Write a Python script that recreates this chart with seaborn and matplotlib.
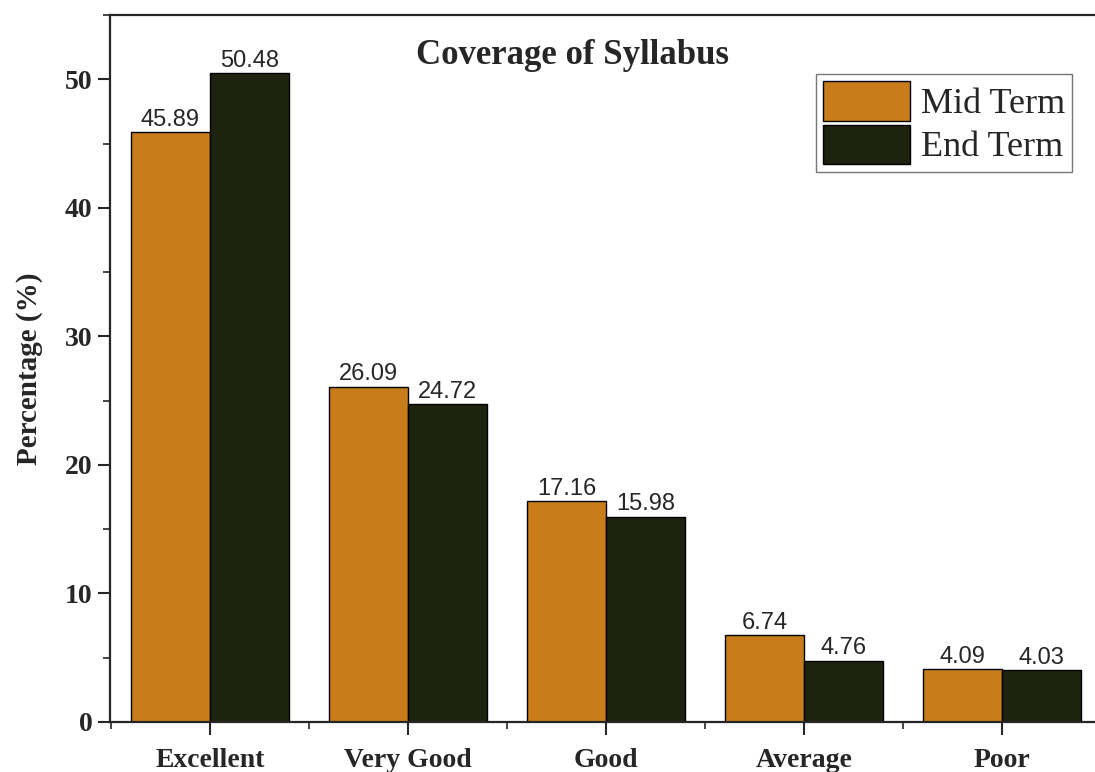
import pandas as pd
import numpy as np
import seaborn as sns
import matplotlib.pyplot as plt
from matplotlib.ticker import MultipleLocator

categorias = ['Excellent', 'Very Good', 'Good', 'Average', 'Poor']
mid_term = [45.89, 26.09, 17.16, 6.74, 4.09]
end_term = [50.48, 24.72, 15.98, 4.76, 4.03]
series = ['Mid Term', 'End Term']
colores = ['#C97C1C', '#1E2310']

df = pd.DataFrame({'Categoria': categorias * 2,
                   'Serie': [series[0]] * 5 + [series[1]] * 5,
                   'Valor': mid_term + end_term})

sns.set_style('ticks')
plt.rcParams['font.family'] = ['Liberation Serif', 'DejaVu Serif']

fig = plt.figure(figsize=(10.95, 7.72), dpi=100)
ax = fig.add_axes([0.1005, 0.0648, 0.8995, 0.9158])

sns.barplot(data=df, x='Categoria', y='Valor', hue='Serie', palette=colores,
            width=0.8, edgecolor='black', linewidth=1, saturation=1, ax=ax)

for cont in ax.containers:
    ax.bar_label(cont, fmt='%.2f', padding=1, fontsize=17, family='Liberation Sans')

ax.set_ylim(0, 55)
ax.set_xlim(-0.505, 4.47)
ax.yaxis.set_major_locator(MultipleLocator(10))
ax.yaxis.set_minor_locator(MultipleLocator(5))
ax.xaxis.set_minor_locator(MultipleLocator(0.5))
ax.tick_params(axis='both', which='major', length=9, width=1.5, labelsize=20)
ax.tick_params(axis='x', which='major', pad=10)
ax.tick_params(axis='both', which='minor', length=5, width=1.2)
for lab in ax.get_xticklabels() + ax.get_yticklabels():
    lab.set_fontweight('bold')

ax.set_xlabel('')
ax.set_ylabel('Percentage (%)', fontsize=21, fontweight='bold', labelpad=16)
for s in ['left', 'top', 'bottom']:
    ax.spines[s].set_linewidth(1.6)
ax.spines['right'].set_visible(False)

ax.text(0.47, 0.943, 'Coverage of Syllabus', transform=ax.transAxes,
        ha='center', va='center', fontsize=25, fontweight='bold')

leg = ax.legend(loc='upper right', bbox_to_anchor=(0.977, 0.9166), fontsize=26,
                frameon=True, fancybox=False, edgecolor='#555555',
                handlelength=2.4, handleheight=1.3, borderpad=0.2,
                labelspacing=0.1, handletextpad=0.3, borderaxespad=0)
leg.get_frame().set_linewidth(1)

plt.savefig('out.png', dpi=100)
